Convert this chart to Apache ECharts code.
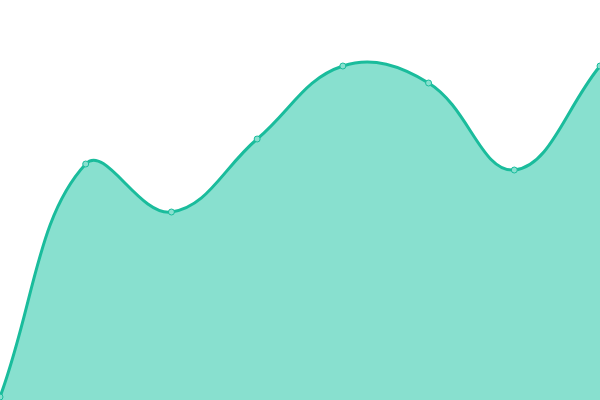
<!DOCTYPE html>
<html><head><meta charset="utf-8">
<script src="https://cdn.jsdelivr.net/npm/echarts@6/dist/echarts.min.js"></script>
<style>html,body{margin:0;padding:0;background:#fff}#c{width:600px;height:400px}</style>
</head><body><div id="c"></div>
<script>
var categories = ['1','2','3','4','5','6','7','8'];
var values = [3, 236, 188, 261, 334, 317, 230, 334];

function smoothPath(pts, t) {
  var n = pts.length, cps = [];
  for (var i = 0; i < n; i++) {
    var p = pts[i], prev = pts[i > 0 ? i - 1 : i], next = pts[i < n - 1 ? i + 1 : i];
    var d01 = Math.hypot(p[0] - prev[0], p[1] - prev[1]);
    var d12 = Math.hypot(next[0] - p[0], next[1] - p[1]);
    var s = d01 + d12 || 1;
    var fa = t * d01 / s, fb = t * d12 / s;
    var vx = next[0] - prev[0], vy = next[1] - prev[1];
    cps.push([[p[0] - fa * vx, p[1] - fa * vy], [p[0] + fb * vx, p[1] + fb * vy]]);
  }
  var d = 'M' + pts[0][0] + ' ' + pts[0][1];
  for (var j = 0; j < n - 1; j++) {
    var a = cps[j][1], b = cps[j + 1][0], e = pts[j + 1];
    d += ' C' + a[0] + ' ' + a[1] + ' ' + b[0] + ' ' + b[1] + ' ' + e[0] + ' ' + e[1];
  }
  return d;
}

var chart = echarts.init(document.getElementById('c'));
chart.setOption({
  animation: false,
  grid: {left: 0, right: 0, top: 0, bottom: 0},
  xAxis: {type: 'category', data: categories, boundaryGap: false, show: false},
  yAxis: {type: 'value', min: 0, max: 400, show: false},
  series: [{
    type: 'custom', z: 1,
    data: values.map(function (v, i) { return [i, v]; }),
    renderItem: function (params, api) {
      if (params.dataIndex !== 0) return null;
      var pts = values.map(function (v, i) { return api.coord([i, v]); });
      var base = api.coord([0, 0])[1];
      var line = smoothPath(pts, 0.4);
      var area = line + ' L' + pts[pts.length - 1][0] + ' ' + base + ' L' + pts[0][0] + ' ' + base + ' Z';
      return {
        type: 'group',
        children: [
          {type: 'path', shape: {pathData: area}, style: {fill: '#88e0cf', stroke: null}},
          {type: 'path', shape: {pathData: line}, style: {fill: null, stroke: '#1abc9c', lineWidth: 3}}
        ]
      };
    }
  }, {
    type: 'line', data: values, z: 3,
    symbol: 'circle', symbolSize: 6,
    itemStyle: {color: '#88e0cf', borderColor: '#1abc9c', borderWidth: 1},
    lineStyle: {width: 0, opacity: 0}
  }]
});
</script></body></html>
